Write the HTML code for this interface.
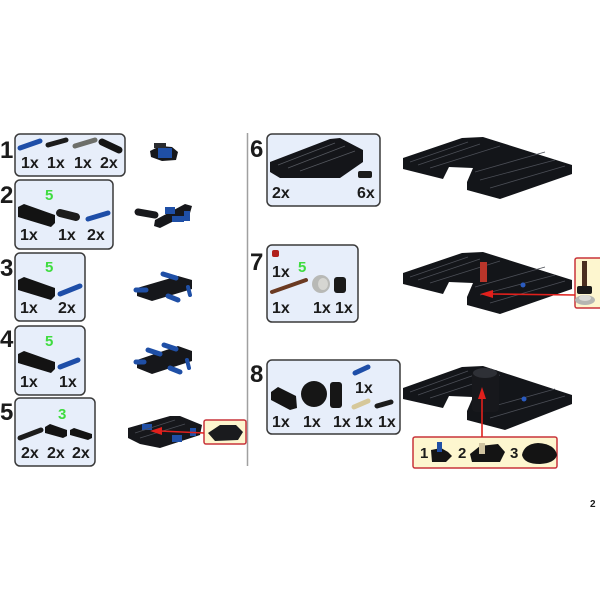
<!DOCTYPE html>
<html><head><meta charset="utf-8"><style>
html,body{margin:0;padding:0;background:#fff;}
svg{display:block;}
text{font-family:"Liberation Sans",Arial,sans-serif;font-weight:bold;fill:#1b1b1b;}
.n{font-size:24px;}
.q{font-size:16px;}
.g{font-size:15px;fill:#3fdc3f;}
</style></head><body>
<svg width="600" height="600" viewBox="0 0 600 600" xmlns="http://www.w3.org/2000/svg">
<rect width="600" height="600" fill="#fff"/>
<line x1="247.5" y1="133" x2="247.5" y2="466" stroke="#a0a0a0" stroke-width="1.5"/>

<!-- instruction boxes -->
<g fill="#e7eefa" stroke="#3a3a3a" stroke-width="1.5">
<rect x="15" y="134" width="110" height="42" rx="5"/>
<rect x="15" y="180" width="98" height="69" rx="5"/>
<rect x="15" y="253" width="70" height="68" rx="5"/>
<rect x="15" y="326" width="70" height="69" rx="5"/>
<rect x="15" y="398" width="80" height="68" rx="5"/>
<rect x="267" y="134" width="113" height="72" rx="5"/>
<rect x="267" y="245" width="91" height="77" rx="5"/>
<rect x="267" y="360" width="133" height="74" rx="5"/>
</g>
<!-- callouts -->
<g fill="#fdf6cf" stroke="#c8333a" stroke-width="1.5">
<rect x="204" y="420" width="42" height="24" rx="2"/>
<rect x="575" y="258" width="30" height="50" rx="2"/>
<rect x="413" y="437" width="144" height="31" rx="2"/>
</g>

<!-- step numbers -->
<text class="n" x="0" y="158">1</text>
<text class="n" x="0" y="203">2</text>
<text class="n" x="0" y="276">3</text>
<text class="n" x="0" y="347">4</text>
<text class="n" x="0" y="420">5</text>
<text class="n" x="250" y="157">6</text>
<text class="n" x="250" y="270">7</text>
<text class="n" x="250" y="382">8</text>

<!-- box 1 parts -->
<g stroke-linecap="round">
<line x1="20" y1="148" x2="40" y2="141" stroke="#1e4ea8" stroke-width="5"/>
<line x1="48" y1="145" x2="66" y2="140" stroke="#1c1c1c" stroke-width="5"/>
<line x1="75" y1="146" x2="95" y2="140" stroke="#6d6f6a" stroke-width="5"/>
<line x1="102" y1="142" x2="119" y2="150" stroke="#151515" stroke-width="7"/>
</g>
<text class="q" x="21" y="168">1x</text>
<text class="q" x="47" y="168">1x</text>
<text class="q" x="74" y="168">1x</text>
<text class="q" x="100" y="168">2x</text>

<!-- box 2 -->
<text class="g" x="45" y="200">5</text>
<polygon points="18,207 24,204 55,215 55,223 51,227 18,217" fill="#131313"/>
<line x1="60" y1="213" x2="76" y2="217" stroke="#1c1c1c" stroke-width="8" stroke-linecap="round"/>
<line x1="88" y1="219" x2="108" y2="213" stroke="#1e4ea8" stroke-width="5" stroke-linecap="round"/>
<text class="q" x="20" y="240">1x</text>
<text class="q" x="58" y="240">1x</text>
<text class="q" x="87" y="240">2x</text>

<!-- box 3 -->
<text class="g" x="45" y="272">5</text>
<polygon points="18,280 24,277 55,288 55,296 51,300 18,290" fill="#131313"/>
<line x1="60" y1="294" x2="80" y2="286" stroke="#1e4ea8" stroke-width="5" stroke-linecap="round"/>
<text class="q" x="20" y="313">1x</text>
<text class="q" x="58" y="313">2x</text>

<!-- box 4 -->
<text class="g" x="45" y="346">5</text>
<polygon points="18,354 24,351 55,362 55,369 51,373 18,363" fill="#131313"/>
<line x1="60" y1="367" x2="78" y2="360" stroke="#1e4ea8" stroke-width="5" stroke-linecap="round"/>
<text class="q" x="20" y="387">1x</text>
<text class="q" x="59" y="387">1x</text>

<!-- box 5 -->
<text class="g" x="58" y="419">3</text>
<line x1="20" y1="438" x2="41" y2="430" stroke="#1c1c1c" stroke-width="5" stroke-linecap="round"/>
<polygon points="45,427 50,424 67,430 67,436 63,438 45,433" fill="#131313"/>
<polygon points="70,430 74,428 92,434 92,438 88,440 70,435" fill="#131313"/>
<text class="q" x="21" y="458">2x</text>
<text class="q" x="47" y="458">2x</text>
<text class="q" x="72" y="458">2x</text>

<!-- box 6 -->
<polygon points="270,162 330,139 340,138 363,150 363,162 340,178 280,178 270,172" fill="#141519"/>
<g stroke="#55585f" stroke-width="0.8">
<line x1="278" y1="165" x2="335" y2="143"/><line x1="288" y1="168" x2="345" y2="146"/><line x1="300" y1="171" x2="355" y2="151"/>
</g>
<rect x="358" y="171" width="14" height="7" rx="2" fill="#1c1c1c"/>
<text class="q" x="272" y="198">2x</text>
<text class="q" x="357" y="198">6x</text>

<!-- box 7 -->
<rect x="272" y="250" width="7" height="7" rx="2" fill="#b0201c"/>
<text class="q" x="272" y="277">1x</text>
<text class="g" x="298" y="272">5</text>
<line x1="272" y1="292" x2="306" y2="280" stroke="#6b3a22" stroke-width="4" stroke-linecap="round"/>
<ellipse cx="321" cy="284" rx="9" ry="9" fill="#b8b9b6"/>
<ellipse cx="323" cy="284" rx="5" ry="6" fill="#d6d6d2"/>
<rect x="334" y="277" width="12" height="16" rx="3" fill="#1a1a1a"/>
<text class="q" x="272" y="313">1x</text>
<text class="q" x="313" y="313">1x</text>
<text class="q" x="335" y="313">1x</text>

<!-- box 8 -->
<polygon points="271,392 278,387 296,396 297,408 290,410 271,400" fill="#141414"/>
<circle cx="314" cy="394" r="13" fill="#161616"/>
<rect x="330" y="382" width="12" height="26" rx="3" fill="#161616"/>
<line x1="355" y1="373" x2="368" y2="367" stroke="#1e4ea8" stroke-width="5" stroke-linecap="round"/>
<text class="q" x="355" y="393">1x</text>
<line x1="354" y1="407" x2="368" y2="401" stroke="#d6c89a" stroke-width="5" stroke-linecap="round"/>
<line x1="377" y1="406" x2="391" y2="402" stroke="#1c1c1c" stroke-width="5" stroke-linecap="round"/>
<text class="q" x="272" y="427">1x</text>
<text class="q" x="303" y="427">1x</text>
<text class="q" x="333" y="427">1x</text>
<text class="q" x="355" y="427">1x</text>
<text class="q" x="378" y="427">1x</text>

<!-- small models left -->
<!-- step1 -->
<polygon points="150,151 160,146 172,147 178,152 176,160 162,161 151,157" fill="#16171b"/>
<rect x="158" y="148" width="14" height="10" fill="#1f4fa6"/>
<rect x="154" y="143" width="12" height="5" fill="#2a2c30"/>
<!-- step2 -->
<line x1="138" y1="212" x2="155" y2="215" stroke="#18191c" stroke-width="7" stroke-linecap="round"/>
<polygon points="155,220 185,204 192,206 190,213 160,228 154,226" fill="#16171b"/>
<rect x="165" y="207" width="10" height="7" fill="#1f4fa6"/>
<rect x="172" y="216" width="12" height="6" fill="#1f4fa6"/>
<rect x="184" y="211" width="6" height="10" fill="#1f4fa6"/>
<!-- step3 -->
<polygon points="137,288 178,276 192,280 192,289 152,301 137,296" fill="#16171b"/>
<line x1="163" y1="274" x2="176" y2="278" stroke="#1f4fa6" stroke-width="5" stroke-linecap="round"/>
<line x1="136" y1="290" x2="146" y2="290" stroke="#1f4fa6" stroke-width="5" stroke-linecap="round"/>
<line x1="168" y1="296" x2="178" y2="300" stroke="#1f4fa6" stroke-width="5" stroke-linecap="round"/>
<line x1="188" y1="287" x2="190" y2="295" stroke="#1f4fa6" stroke-width="4" stroke-linecap="round"/>
<!-- step4 -->
<polygon points="137,360 178,346 192,351 192,361 152,374 137,368" fill="#16171b"/>
<line x1="148" y1="350" x2="160" y2="354" stroke="#1f4fa6" stroke-width="5" stroke-linecap="round"/>
<line x1="164" y1="345" x2="176" y2="349" stroke="#1f4fa6" stroke-width="5" stroke-linecap="round"/>
<line x1="136" y1="362" x2="144" y2="362" stroke="#1f4fa6" stroke-width="5" stroke-linecap="round"/>
<line x1="170" y1="368" x2="180" y2="372" stroke="#1f4fa6" stroke-width="5" stroke-linecap="round"/>
<line x1="187" y1="360" x2="189" y2="368" stroke="#1f4fa6" stroke-width="4" stroke-linecap="round"/>
<!-- step5 -->
<polygon points="128,428 170,416 180,416 202,425 200,435 160,448 140,444 128,438" fill="#16171b"/>
<rect x="142" y="424" width="10" height="6" fill="#1f4fa6"/>
<rect x="172" y="435" width="10" height="7" fill="#1f4fa6"/>
<rect x="190" y="428" width="6" height="8" fill="#1f4fa6"/>
<g stroke="#4a4d55" stroke-width="0.7"><line x1="135" y1="433" x2="175" y2="420"/><line x1="140" y1="438" x2="185" y2="424"/></g>
<!-- step5 callout part -->
<polygon points="208,433 220,425 236,425 243,432 238,440 215,441" fill="#1a1b1e"/>
<!-- step5 arrow -->
<line x1="204" y1="433" x2="160" y2="431" stroke="#e0201c" stroke-width="1.6"/>
<polygon points="150,431 162,427 162,435" fill="#e0201c"/>

<!-- big plates -->
<g fill="#131519">
<polygon points="403,158 462,138 483,137 572,165 572,174 500,199 467,190 467,182 473,168 449,167 443,179 403,169"/>
<polygon points="403,273 462,253 483,252 572,280 572,289 500,314 467,305 467,297 473,283 449,282 443,294 403,284"/>
<polygon points="403,388 462,367 483,366 572,395 572,404 505,430 467,420 467,411 473,397 449,396 443,408 403,399"/>
</g>
<g stroke="#4b4e56" stroke-width="0.8" fill="none">
<path d="M410,162 L468,142 M418,165 L480,144 M430,168 L500,146 M475,172 L545,152 M480,180 L555,160 M490,188 L565,166"/>
<path d="M410,277 L468,257 M418,280 L480,259 M430,283 L500,261 M475,287 L545,267 M480,295 L555,275 M490,303 L565,281"/>
<path d="M410,392 L468,371 M418,395 L480,373 M430,398 L500,375 M480,410 L555,389 M490,418 L565,396"/>
</g>
<!-- step7 details -->
<rect x="480" y="262" width="7" height="20" fill="#b8352a"/>
<circle cx="523" cy="285" r="2.5" fill="#2a5bc0"/>
<rect x="582" y="261" width="5" height="27" fill="#4a2e20"/>
<rect x="577" y="286" width="15" height="8" rx="2" fill="#1a1a1a"/>
<ellipse cx="585" cy="300" rx="10" ry="5" fill="#b5b6b2"/>
<ellipse cx="585" cy="298" rx="6" ry="3" fill="#dadad6"/>
<line x1="575" y1="295" x2="492" y2="294" stroke="#e0201c" stroke-width="1.6"/>
<polygon points="480,294 493,290 493,298" fill="#e0201c"/>
<!-- step8 details -->
<rect x="472" y="370" width="27" height="42" rx="4" fill="#17181c"/>
<ellipse cx="485" cy="373" rx="12" ry="5" fill="#2e3036"/>
<circle cx="524" cy="399" r="2.5" fill="#2a5bc0"/>
<line x1="482" y1="437" x2="482" y2="398" stroke="#e0201c" stroke-width="1.6"/>
<polygon points="482,387 478,399 486,399" fill="#e0201c"/>
<!-- step8 callout -->
<text x="420" y="458" style="font-size:15px">1</text>
<polygon points="431,450 441,448 448,452 452,456 446,462 432,462" fill="#141414"/>
<rect x="437" y="442" width="5" height="10" fill="#1f4fa6"/>
<text x="458" y="458" style="font-size:15px">2</text>
<polygon points="470,454 480,446 498,444 505,452 500,462 472,462" fill="#141414"/>
<rect x="479" y="443" width="6" height="11" fill="#cfc3a0"/>
<text x="510" y="458" style="font-size:15px">3</text>
<path d="M522,455 Q524,444 538,443 Q555,444 557,455 Q555,463 540,464 Q524,464 522,455Z" fill="#141414"/>

<!-- page number -->
<text x="590" y="507" style="font-size:10px">2</text>
</svg>
</body></html>
